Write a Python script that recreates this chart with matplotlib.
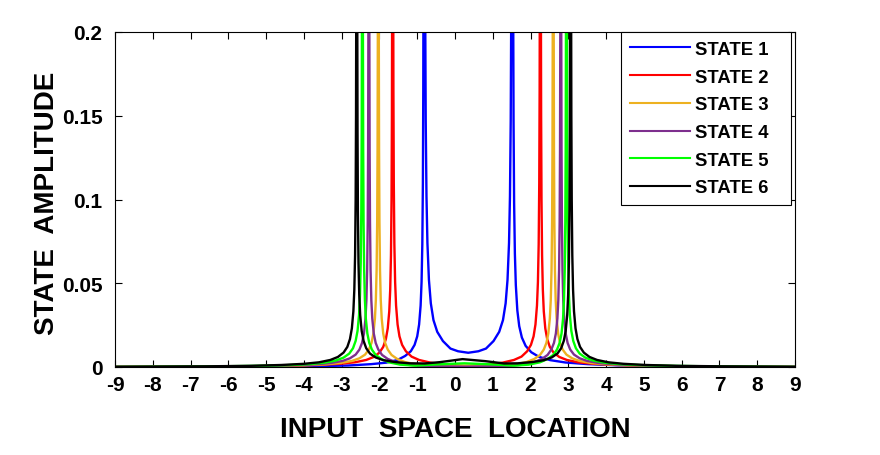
# state amplitude vs input space location
import matplotlib
import matplotlib.pyplot as plt

matplotlib.use('Agg')
matplotlib.rcParams["font.family"] = "Liberation Sans"
matplotlib.rcParams["font.weight"] = "bold"

# ---------------------------------------------------------------------------
# data (x = input space location, y = amplitude)
# each state: left outside, between the two spikes, right outside
# ---------------------------------------------------------------------------
state1_x = [-9, -4.82, -3.62, -2.82, -2.22, -1.82, -1.52, -1.32, -1.17, -1.07, -1.0, -0.95, -0.91, -0.885, -0.865, -0.85, -0.84, -0.833, -0.828, -0.824,
            -0.816, -0.812, -0.807, -0.80, -0.79, -0.775, -0.755, -0.73, -0.69, -0.64, -0.57, -0.47, -0.32, -0.12, 0.08,
            0.35,
            0.62, 0.82, 1.02, 1.17, 1.27, 1.34, 1.39, 1.43, 1.455, 1.475, 1.49, 1.50, 1.507, 1.512, 1.516,
            1.524, 1.528, 1.533, 1.54, 1.55, 1.565, 1.585, 1.61, 1.65, 1.70, 1.77, 1.87, 2.02, 2.22, 2.52, 2.92, 3.52, 4.32, 5.52, 9]
state1_y = [0.00004, 0.0002, 0.0005, 0.0009, 0.0017, 0.0026, 0.0042, 0.0066, 0.0094, 0.0132, 0.0183, 0.0254, 0.0367, 0.0508, 0.0733, 0.11, 0.165, 0.254, 0.4125, 0.825,
            1.65, 0.825, 0.508, 0.33, 0.22, 0.147, 0.102, 0.074, 0.052, 0.038, 0.028, 0.021, 0.0155, 0.011, 0.0094,
            0.0085,
            0.0094, 0.011, 0.0155, 0.021, 0.028, 0.038, 0.052, 0.074, 0.102, 0.147, 0.22, 0.33, 0.508, 0.825, 1.65,
            1.1, 0.55, 0.338, 0.22, 0.147, 0.0978, 0.0677, 0.0489, 0.0338, 0.0244, 0.0176, 0.0126, 0.0088, 0.0061, 0.0041, 0.0027, 0.0017, 0.001, 0.00055, 0.0001]

state2_x = [-9, -5.65, -4.45, -3.65, -3.05, -2.65, -2.35, -2.15, -2.0, -1.9, -1.83, -1.78, -1.74, -1.715, -1.695, -1.68, -1.67, -1.663, -1.658, -1.654,
            -1.646, -1.642, -1.637, -1.63, -1.62, -1.605, -1.585, -1.56, -1.52, -1.47, -1.40, -1.30, -1.15, -0.95, -0.65, -0.25,
            0.305,
            0.86, 1.26, 1.56, 1.76, 1.91, 2.01, 2.08, 2.13, 2.17, 2.195, 2.215, 2.23, 2.24, 2.247, 2.252, 2.256,
            2.264, 2.268, 2.273, 2.28, 2.29, 2.305, 2.325, 2.35, 2.39, 2.44, 2.51, 2.61, 2.76, 2.96, 3.26, 3.66, 4.26, 5.06, 6.26, 9]
state2_y = [0.00005, 0.00038, 0.0007, 0.0012, 0.0019, 0.0028, 0.0042, 0.006, 0.0086, 0.012, 0.0167, 0.0231, 0.0333, 0.0462, 0.0667, 0.1, 0.15, 0.231, 0.375, 0.75,
            0.825, 0.4125, 0.254, 0.165, 0.11, 0.0733, 0.0508, 0.0367, 0.0254, 0.0183, 0.0132, 0.0094, 0.0062, 0.0042, 0.0026, 0.0015,
            0.0003,
            0.0015, 0.0026, 0.0042, 0.0062, 0.0094, 0.0132, 0.0183, 0.0254, 0.0367, 0.0508, 0.0733, 0.11, 0.165, 0.254, 0.4125, 0.825,
            0.75, 0.375, 0.231, 0.15, 0.1, 0.0667, 0.0462, 0.0333, 0.0231, 0.0167, 0.012, 0.0086, 0.006, 0.0042, 0.0028, 0.0019, 0.0012, 0.0007, 0.00038, 0.00005]

state3_x = [-9, -6.03, -4.83, -4.03, -3.43, -3.03, -2.73, -2.53, -2.38, -2.28, -2.21, -2.16, -2.12, -2.095, -2.075, -2.06, -2.05, -2.043, -2.038, -2.034,
            -2.026, -2.022, -2.017, -2.01, -2.0, -1.985, -1.965, -1.94, -1.90, -1.85, -1.78, -1.68, -1.53, -1.33, -1.03, -0.63,
            0.285,
            1.20, 1.60, 1.90, 2.10, 2.25, 2.35, 2.42, 2.47, 2.51, 2.535, 2.555, 2.57, 2.58, 2.587, 2.592, 2.596,
            2.604, 2.608, 2.613, 2.62, 2.63, 2.645, 2.665, 2.69, 2.73, 2.78, 2.85, 2.95, 3.10, 3.30, 3.60, 4.00, 4.60, 5.40, 6.60, 9]
state3_y = [0.00005, 0.00033, 0.0006, 0.001, 0.0016, 0.0024, 0.0036, 0.0052, 0.0074, 0.0104, 0.0144, 0.02, 0.0289, 0.04, 0.0578, 0.0867, 0.13, 0.2, 0.325, 0.65,
            0.65, 0.325, 0.2, 0.13, 0.0867, 0.0578, 0.04, 0.0289, 0.02, 0.0144, 0.0104, 0.0072, 0.0048, 0.003, 0.0016, 0.0007,
            0.0009,
            0.0007, 0.0016, 0.003, 0.0048, 0.0072, 0.0104, 0.0144, 0.02, 0.0289, 0.04, 0.0578, 0.0867, 0.13, 0.2, 0.325, 0.65,
            0.65, 0.325, 0.2, 0.13, 0.0867, 0.0578, 0.04, 0.0289, 0.02, 0.0144, 0.0104, 0.0074, 0.0052, 0.0036, 0.0024, 0.0016, 0.001, 0.0006, 0.00033, 0.00005]

state4_x = [-9, -6.28, -5.08, -4.28, -3.68, -3.28, -2.98, -2.78, -2.63, -2.53, -2.46, -2.41, -2.37, -2.345, -2.325, -2.31, -2.30, -2.293, -2.288, -2.284,
            -2.276, -2.272, -2.267, -2.26, -2.25, -2.235, -2.215, -2.19, -2.15, -2.10, -2.03, -1.93, -1.78, -1.58, -1.28, -0.88,
            0.26,
            1.40, 1.80, 2.10, 2.30, 2.45, 2.55, 2.62, 2.67, 2.71, 2.735, 2.755, 2.77, 2.78, 2.787, 2.792, 2.796,
            2.804, 2.808, 2.813, 2.82, 2.83, 2.845, 2.865, 2.89, 2.93, 2.98, 3.05, 3.15, 3.30, 3.50, 3.80, 4.20, 4.80, 5.60, 6.80, 9]
state4_y = [0.00005, 0.00033, 0.0006, 0.001, 0.0016, 0.0024, 0.0036, 0.0052, 0.0074, 0.0104, 0.0144, 0.02, 0.0289, 0.04, 0.0578, 0.0867, 0.13, 0.2, 0.325, 0.65,
            0.65, 0.325, 0.2, 0.13, 0.0867, 0.0578, 0.04, 0.0289, 0.02, 0.0144, 0.0104, 0.0072, 0.0048, 0.003, 0.0014, 0.0005,
            0.0002,
            0.0005, 0.0014, 0.003, 0.0048, 0.0072, 0.0104, 0.0144, 0.02, 0.0289, 0.04, 0.0578, 0.0867, 0.13, 0.2, 0.325, 0.65,
            0.65, 0.325, 0.2, 0.13, 0.0867, 0.0578, 0.04, 0.0289, 0.02, 0.0144, 0.0104, 0.0074, 0.0052, 0.0036, 0.0024, 0.0016, 0.001, 0.0006, 0.00033, 0.00005]

state5_x = [-9, -6.45, -5.25, -4.45, -3.85, -3.45, -3.15, -2.95, -2.80, -2.70, -2.63, -2.58, -2.54, -2.515, -2.495, -2.48, -2.47, -2.463, -2.458, -2.454,
            -2.446, -2.442, -2.437, -2.43, -2.42, -2.405, -2.385, -2.36, -2.32, -2.27, -2.20, -2.10, -1.95, -1.75, -1.45, -1.05, -0.45,
            0.25,
            0.95, 1.55, 1.95, 2.25, 2.45, 2.60, 2.70, 2.77, 2.82, 2.86, 2.885, 2.905, 2.92, 2.93, 2.937, 2.942, 2.946,
            2.954, 2.958, 2.963, 2.97, 2.98, 2.995, 3.015, 3.04, 3.08, 3.13, 3.20, 3.30, 3.45, 3.65, 3.95, 4.35, 4.95, 5.75, 6.95, 9]
state5_y = [0.00008, 0.00035, 0.0007, 0.0011, 0.0017, 0.0026, 0.0039, 0.0056, 0.008, 0.0112, 0.0156, 0.0215, 0.0311, 0.0431, 0.0622, 0.0933, 0.14, 0.215, 0.35, 0.7,
            0.65, 0.325, 0.2, 0.13, 0.0867, 0.0578, 0.04, 0.0289, 0.02, 0.0144, 0.0104, 0.0072, 0.0048, 0.0028, 0.0014, 0.0008, 0.0016,
            0.0022,
            0.0016, 0.0008, 0.0014, 0.0028, 0.0048, 0.0072, 0.0104, 0.0144, 0.02, 0.0289, 0.04, 0.0578, 0.0867, 0.13, 0.2, 0.325, 0.65,
            0.7, 0.35, 0.215, 0.14, 0.0933, 0.0622, 0.0431, 0.0311, 0.0215, 0.0156, 0.0112, 0.008, 0.0056, 0.0039, 0.0026, 0.0017, 0.0011, 0.0007, 0.00035, 0.00008]

state6_x = [-9, -6.60, -5.40, -4.60, -4.00, -3.60, -3.30, -3.10, -2.95, -2.85, -2.78, -2.73, -2.69, -2.665, -2.645, -2.63, -2.62, -2.613, -2.608, -2.604,
            -2.596, -2.592, -2.587, -2.58, -2.57, -2.555, -2.535, -2.51, -2.47, -2.42, -2.35, -2.25, -2.10, -1.90, -1.60, -1.20, -0.80, -0.40,
            0.20,
            0.80, 1.30, 1.66, 2.06, 2.36, 2.56, 2.71, 2.81, 2.88, 2.93, 2.97, 2.995, 3.015, 3.03, 3.04, 3.047, 3.052, 3.056,
            3.064, 3.068, 3.073, 3.08, 3.09, 3.105, 3.125, 3.15, 3.19, 3.24, 3.31, 3.41, 3.56, 3.76, 4.06, 4.46, 5.06, 5.86, 7.06, 9]
state6_y = [0.0001, 0.0004, 0.0007, 0.0012, 0.0019, 0.0028, 0.0042, 0.006, 0.0086, 0.012, 0.0167, 0.0231, 0.0333, 0.0462, 0.0667, 0.1, 0.15, 0.231, 0.375, 0.75,
            0.7, 0.35, 0.215, 0.14, 0.0933, 0.0622, 0.0431, 0.0311, 0.0215, 0.0156, 0.0112, 0.008, 0.0057, 0.0041, 0.003, 0.0022, 0.0021, 0.0029,
            0.0047,
            0.0035, 0.0021, 0.0022, 0.003, 0.0041, 0.0057, 0.008, 0.0112, 0.0156, 0.0215, 0.0311, 0.0431, 0.0622, 0.0933, 0.14, 0.215, 0.35, 0.7,
            0.75, 0.375, 0.231, 0.15, 0.1, 0.0667, 0.0462, 0.0333, 0.0231, 0.0167, 0.012, 0.0086, 0.006, 0.0042, 0.0028, 0.0019, 0.0012, 0.0007, 0.0004, 0.0001]

labels = ['STATE 1', 'STATE 2', 'STATE 3', 'STATE 4', 'STATE 5', 'STATE 6']
colors = ['#0000ff', '#ff0000', '#edb120', '#7e2f8e', '#00ff00', '#000000']
xs = [state1_x, state2_x, state3_x, state4_x, state5_x, state6_x]
ys = [state1_y, state2_y, state3_y, state4_y, state5_y, state6_y]

x_ticks = list(range(-9, 10))
y_ticks = [0, 0.05, 0.1, 0.15, 0.2]
y_tick_labels = ['0', '0.05', '0.1', '0.15', '0.2']

# ---------------------------------------------------------------------------
# figure
# ---------------------------------------------------------------------------
fig = plt.figure(figsize=(8.8, 4.56), dpi=100)
ax = fig.add_axes([115/880, 88/456, 680/880, 335/456])

for x, y, c, lab in zip(xs, ys, colors, labels):
    ax.plot(x, y, color=c, linewidth=1.7, label=lab)

ax.set_xlim(-9, 9)
ax.set_ylim(0, 0.2)
ax.set_xticks(x_ticks)
ax.set_xticklabels([str(t) for t in x_ticks])
ax.set_yticks(y_ticks)
ax.set_yticklabels(y_tick_labels)
ax.tick_params(direction='in', top=True, right=True, length=5, width=0.8,
               labelsize=15, pad=6)
ax.tick_params(axis='y', pad=9)
for s in ax.spines.values():
    s.set_linewidth(0.8)

ax.set_xlabel('INPUT  SPACE  LOCATION', fontsize=20, fontweight='bold', va='center')
ax.set_ylabel('STATE  AMPLITUDE', fontsize=20, fontweight='bold', va='center')
ax.xaxis.set_label_coords(0.5, -0.185)
ax.yaxis.set_label_coords(-0.1, 0.49)

leg = ax.legend(loc='upper left', bbox_to_anchor=(0.744, 0.0, 0.25, 1.0), mode='expand',
                borderaxespad=0, fontsize=13.3, handlelength=3.25, handletextpad=0.27,
                labelspacing=0.58, fancybox=False, framealpha=1, edgecolor='black',
                borderpad=0.48)
leg.get_frame().set_linewidth(0.8)
for line in leg.get_lines():
    line.set_linewidth(1.5)
for t in leg.get_texts():
    t.set_fontweight('bold')

plt.savefig('out.png', dpi=100)
